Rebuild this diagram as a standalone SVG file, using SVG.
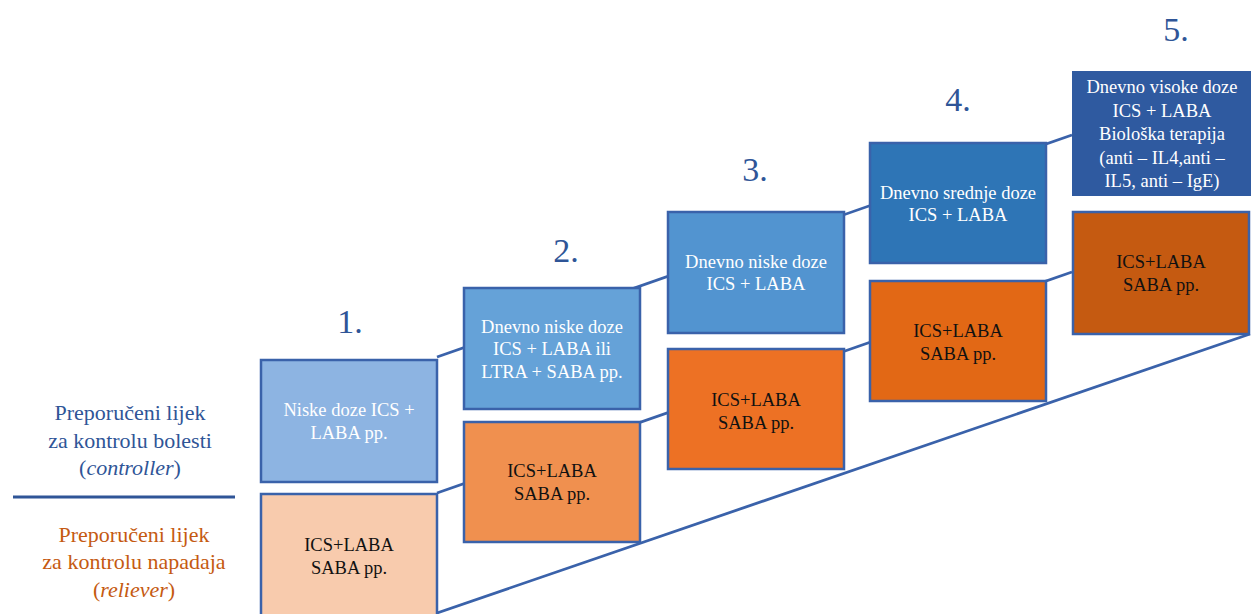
<svg xmlns="http://www.w3.org/2000/svg" width="1251" height="614" viewBox="0 0 1251 614">
<style>
.box{stroke:#3a62aa;stroke-width:2.5}
.conn{stroke:#3a62aa;stroke-width:2.8;fill:none}
.t{font-size:18.5px;text-anchor:middle}
.w{fill:#ffffff}
.k{fill:#111111}
.num{font-size:34px;fill:#2f5597;text-anchor:middle}
.side{font-size:22px;text-anchor:middle}
</style>
<rect width="1251" height="614" fill="#ffffff"/>
<g id="connectors">
<line class="conn" x1="437" y1="357" x2="1072" y2="135"/>
<line class="conn" x1="437" y1="493" x2="1072" y2="272"/>
<line class="conn" x1="437" y1="613" x2="1250" y2="334"/>
<line x1="13" y1="497" x2="235" y2="497" stroke="#2f5597" stroke-width="3"/>
</g>
<g font-family="Liberation Serif, 'Times New Roman', serif">
<g id="legend-controller">
<text class="side" fill="#2f5597"><tspan x="130" y="420">Preporučeni lijek</tspan><tspan x="130" y="448">za kontrolu bolesti</tspan><tspan x="130" y="475">(<tspan font-style="italic">controller</tspan>)</tspan></text>
</g>
<g id="legend-reliever">
<text class="side" fill="#c55a11"><tspan x="134" y="542">Preporučeni lijek</tspan><tspan x="134" y="569">za kontrolu napadaja</tspan><tspan x="134" y="597">(<tspan font-style="italic">reliever</tspan>)</tspan></text>
</g>
<g id="step1">
<text class="num" x="350" y="333">1.</text>
<rect class="box" x="261" y="360" width="176" height="122" fill="#8db4e2"/>
<text class="t w"><tspan x="349" y="416">Niske doze ICS +</tspan><tspan x="349" y="439">LABA pp.</tspan></text>
<rect class="box" x="261" y="494" width="176" height="125" fill="#f8cbad"/>
<text class="t k"><tspan x="349" y="551">ICS+LABA</tspan><tspan x="349" y="574">SABA pp.</tspan></text>
</g>
<g id="step2">
<text class="num" x="566" y="262">2.</text>
<rect class="box" x="464" y="288" width="176" height="121" fill="#65a2d8"/>
<text class="t w"><tspan x="552" y="333">Dnevno niske doze</tspan><tspan x="552" y="355">ICS + LABA ili</tspan><tspan x="552" y="378">LTRA + SABA pp.</tspan></text>
<rect class="box" x="464" y="422" width="176" height="120" fill="#f0904f"/>
<text class="t k"><tspan x="552" y="477">ICS+LABA</tspan><tspan x="552" y="500">SABA pp.</tspan></text>
</g>
<g id="step3">
<text class="num" x="755" y="181">3.</text>
<rect class="box" x="668" y="212" width="176" height="121" fill="#5294d0"/>
<text class="t w"><tspan x="756" y="268">Dnevno niske doze</tspan><tspan x="756" y="290">ICS + LABA</tspan></text>
<rect class="box" x="668" y="349" width="176" height="120" fill="#ed7124"/>
<text class="t k"><tspan x="756" y="406">ICS+LABA</tspan><tspan x="756" y="429">SABA pp.</tspan></text>
</g>
<g id="step4">
<text class="num" x="958" y="111">4.</text>
<rect class="box" x="870" y="143" width="176" height="120" fill="#2e75b6"/>
<text class="t w"><tspan x="958" y="199">Dnevno srednje doze</tspan><tspan x="958" y="221">ICS + LABA</tspan></text>
<rect class="box" x="870" y="281" width="176" height="120" fill="#e26815"/>
<text class="t k"><tspan x="958" y="337">ICS+LABA</tspan><tspan x="958" y="360">SABA pp.</tspan></text>
</g>
<g id="step5">
<text class="num" x="1176" y="41">5.</text>
<rect x="1072" y="71" width="180" height="125" fill="#2f5aa0"/>
<text class="t w"><tspan x="1162" y="93">Dnevno visoke doze</tspan><tspan x="1162" y="117">ICS + LABA</tspan><tspan x="1162" y="140">Biološka terapija</tspan><tspan x="1162" y="164">(anti – IL4,anti –</tspan><tspan x="1162" y="187">IL5, anti – IgE)</tspan></text>
<rect class="box" x="1073" y="212" width="176" height="122" fill="#c55a11"/>
<text class="t k"><tspan x="1161" y="268">ICS+LABA</tspan><tspan x="1161" y="291">SABA pp.</tspan></text>
</g>
</g>
</svg>
